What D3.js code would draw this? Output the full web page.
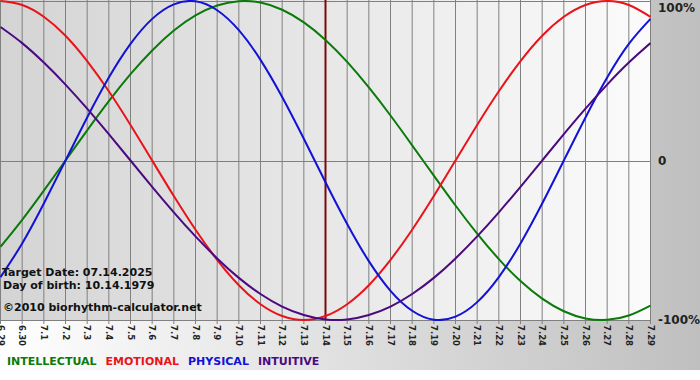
<!DOCTYPE html>
<html>
<head>
<meta charset="utf-8">
<script src="https://cdn.jsdelivr.net/npm/d3@7/dist/d3.min.js"></script>
<style>
  body { margin: 0; background: #fff; }
  svg { display: block; font-family: "DejaVu Sans", Verdana, sans-serif; font-weight: bold; }
</style>
</head>
<body>
<div id="chart"></div>
<script>

// days shown on the x axis
var days = ["6.29", "6.30", "7.1", "7.2", "7.3", "7.4", "7.5", "7.6", "7.7", "7.8", "7.9", "7.10",
    "7.11", "7.12", "7.13", "7.14", "7.15", "7.16", "7.17", "7.18", "7.19", "7.20", "7.21",
    "7.22", "7.23", "7.24", "7.25", "7.26", "7.27", "7.28", "7.29"];

var targetDay = "7.14";

// cycle values, one per day (-1 .. 1)
var intellectual = [-0.541, -0.372, -0.189, 0.000, 0.189, 0.372, 0.541, 0.690, 0.815, 0.910,
    0.972, 0.999, 0.990, 0.945, 0.866, 0.756, 0.618, 0.458, 0.282, 0.095, -0.095, -0.282,
    -0.458, -0.618, -0.756, -0.866, -0.945, -0.990, -0.999, -0.972, -0.910];
var emotional = [1.000, 0.975, 0.901, 0.782, 0.623, 0.434, 0.223, 0.000, -0.223, -0.434,
    -0.623, -0.782, -0.901, -0.975, -1.000, -0.975, -0.901, -0.782, -0.623, -0.434, -0.223,
    0.000, 0.223, 0.434, 0.623, 0.782, 0.901, 0.975, 1.000, 0.975, 0.901];
var physical = [-0.731, -0.520, -0.270, 0.000, 0.270, 0.520, 0.731, 0.888, 0.979, 0.998,
    0.942, 0.817, 0.631, 0.398, 0.136, -0.136, -0.398, -0.631, -0.817, -0.942, -0.998, -0.979,
    -0.888, -0.731, -0.520, -0.270, 0.000, 0.270, 0.520, 0.731, 0.888];
var intuitive = [0.837, 0.736, 0.614, 0.476, 0.325, 0.165, 0.000, -0.165, -0.325, -0.476,
    -0.614, -0.736, -0.837, -0.916, -0.969, -0.997, -0.997, -0.969, -0.916, -0.837, -0.736,
    -0.614, -0.476, -0.325, -0.165, 0.000, 0.165, 0.325, 0.476, 0.614, 0.736];

var yTicks = [1, 0, -1];
var yTickLabels = ["100%", "0", "-100%"];

var infoLines = ["Target Date: 07.14.2025", "Day of birth: 10.14.1979", "\u00a92010 biorhythm-calculator.net"];

var seriesNames = ["INTELLECTUAL", "EMOTIONAL", "PHYSICAL", "INTUITIVE"];
var seriesColors = ["#0b7a0b", "#e8141a", "#1212d6", "#4a0a80"];
var seriesValues = [intellectual, emotional, physical, intuitive];


var W = 700, H = 380;
var plotW = 651, plotTop = 1, plotBottom = 320;

var svg = d3.select("#chart").append("svg")
    .attr("width", W)
    .attr("height", H);

var defs = svg.append("defs");

var bgGrad = defs.append("linearGradient").attr("id", "bgGrad");
bgGrad.append("stop").attr("offset", "0%").attr("stop-color", "#ffffff");
bgGrad.append("stop").attr("offset", "100%").attr("stop-color", "#bfbfbf");

var plotGrad = defs.append("linearGradient").attr("id", "plotGrad");
plotGrad.append("stop").attr("offset", "0%").attr("stop-color", "#d4d4d4");
plotGrad.append("stop").attr("offset", "100%").attr("stop-color", "#fbfbfb");

defs.append("clipPath").attr("id", "plotClip")
    .append("rect")
    .attr("x", 0).attr("y", 0)
    .attr("width", plotW).attr("height", plotBottom + 1);

svg.append("rect")
    .attr("width", W).attr("height", 370)
    .attr("fill", "url(#bgGrad)");

svg.append("rect")
    .attr("x", 0).attr("y", 0)
    .attr("width", plotW).attr("height", plotBottom)
    .attr("fill", "url(#plotGrad)");

var x = d3.scalePoint()
    .domain(days)
    .range([0.5, plotW - 0.5]);

var y = d3.scaleLinear()
    .domain([-1, 1])
    .range([plotBottom, plotTop]);

// vertical grid + ticks
svg.append("g").selectAll("line")
    .data(days)
    .enter().append("line")
    .attr("x1", function(d) { return x(d); })
    .attr("x2", function(d) { return x(d); })
    .attr("y1", 0)
    .attr("y2", plotBottom + 4)
    .attr("stroke", "#808080")
    .attr("stroke-width", 1);

// horizontal grid
svg.append("g").selectAll("line")
    .data(yTicks)
    .enter().append("line")
    .attr("x1", 0)
    .attr("x2", plotW)
    .attr("y1", function(d) { return Math.round(y(d)) + 0.5; })
    .attr("y2", function(d) { return Math.round(y(d)) + 0.5; })
    .attr("stroke", "#808080")
    .attr("stroke-width", 1);

// x labels, rotated
svg.append("g").selectAll("text")
    .data(days)
    .enter().append("text")
    .attr("transform", function(d) {
        return "translate(" + x(d) + "," + (plotBottom + 5) + ") rotate(90)";
    })
    .attr("dy", "0.35em")
    .style("font-size", "8.5px")
    .attr("fill", "#222")
    .text(function(d) { return d; });

// y labels on the right
svg.append("g").selectAll("text")
    .data(yTicks)
    .enter().append("text")
    .attr("x", 658)
    .attr("y", function(d) { return Math.min(Math.max(y(d), 8), 322); })
    .attr("dy", "0.35em")
    .style("font-size", "12px")
    .attr("fill", "#222")
    .text(function(d, i) { return yTickLabels[i]; });

// target date marker
svg.append("line")
    .attr("x1", x(targetDay)).attr("x2", x(targetDay))
    .attr("y1", 0).attr("y2", plotBottom)
    .attr("stroke", "#7a0a0a")
    .attr("stroke-width", 2);

// curves
var line = d3.line()
    .x(function(d, i) { return x(days[i]); })
    .y(function(d) { return y(d); })
    .curve(d3.curveNatural);

svg.append("g")
    .attr("clip-path", "url(#plotClip)")
    .selectAll("path")
    .data(seriesValues)
    .enter().append("path")
    .attr("d", function(d) { return line(d); })
    .attr("fill", "none")
    .attr("stroke", function(d, i) { return seriesColors[i]; })
    .attr("stroke-width", 2);

// info text
svg.append("g").selectAll("text")
    .data(infoLines)
    .enter().append("text")
    .attr("x", function(d, i) { return i == 0 ? 2 : 3; })
    .attr("y", function(d, i) { return [276, 289, 311][i]; })
    .style("font-size", "11px")
    .attr("fill", "#111")
    .text(function(d) { return d; });

// legend
var legend = svg.append("g");
var lx = 7;
seriesNames.forEach(function(name, i) {
    var t = legend.append("text")
        .attr("x", lx)
        .attr("y", 365)
        .style("font-size", "11px")
        .attr("fill", seriesColors[i])
        .text(name);
    lx += t.node().getComputedTextLength() + 9;
});

</script>
</body>
</html>
